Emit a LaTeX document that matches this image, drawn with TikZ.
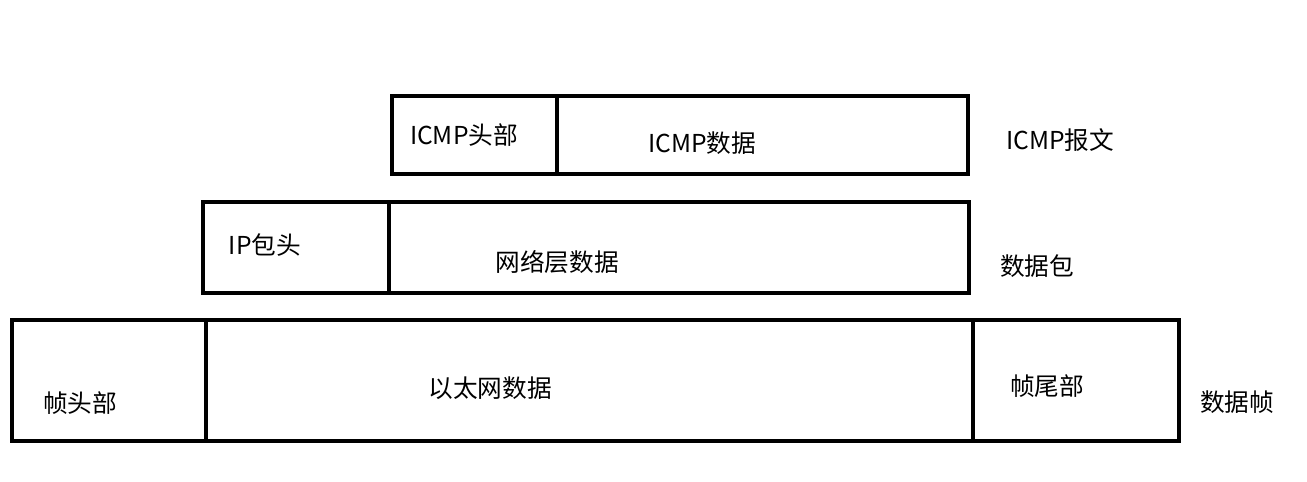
\documentclass[tikz,border=0pt]{standalone}
\usepackage{fontspec}
\setmainfont{Noto Sans CJK SC}
\begin{document}
\begin{tikzpicture}[x=0.75pt, y=-0.75pt, line width=3pt,
    cell/.style={draw, rectangle, inner sep=0pt, outer sep=0pt, anchor=north west},
    txt/.style={inner sep=0pt, font=\fontsize{18.5}{20}\selectfont}]
	\useasboundingbox (0,0) rectangle (1307,482);
	
	% ICMP报文
	\node[cell, minimum width=165*0.75pt, minimum height=78*0.75pt] (icmphead) at (392,96) {};
	\node[cell, minimum width=411*0.75pt, minimum height=78*0.75pt] (icmpdata) at (icmphead.north east) {};
	\node[txt] (icmphdtxt) at (464,135) {ICMP头部};
	\node[txt] (icmpdttxt) at (702,143) {ICMP数据};
	\node[txt] (icmplbl) at (1060,140) {ICMP报文};
	
	% 数据包
	\node[cell, minimum width=186*0.75pt, minimum height=91*0.75pt] (iphead) at (203,202) {};
	\node[cell, minimum width=580*0.75pt, minimum height=91*0.75pt] (ipdata) at (iphead.north east) {};
	\node[txt] (iphdtxt) at (265,245) {IP包头};
	\node[txt] (ipdttxt) at (557,262) {网络层数据};
	\node[txt] (iplbl) at (1037,266) {数据包};
	
	% 数据帧
	\node[cell, minimum width=194*0.75pt, minimum height=121*0.75pt] (ethhead) at (12,320) {};
	\node[cell, minimum width=767*0.75pt, minimum height=121*0.75pt] (ethdata) at (ethhead.north east) {};
	\node[cell, minimum width=206*0.75pt, minimum height=121*0.75pt] (ethtail) at (ethdata.north east) {};
	\node[txt] (ethhdtxt) at (80,403) {帧头部};
	\node[txt] (ethdttxt) at (490,388) {以太网数据};
	\node[txt] (ethtltxt) at (1047,386) {帧尾部};
	\node[txt] (ethlbl) at (1237,402) {数据帧};
\end{tikzpicture}
\end{document}
